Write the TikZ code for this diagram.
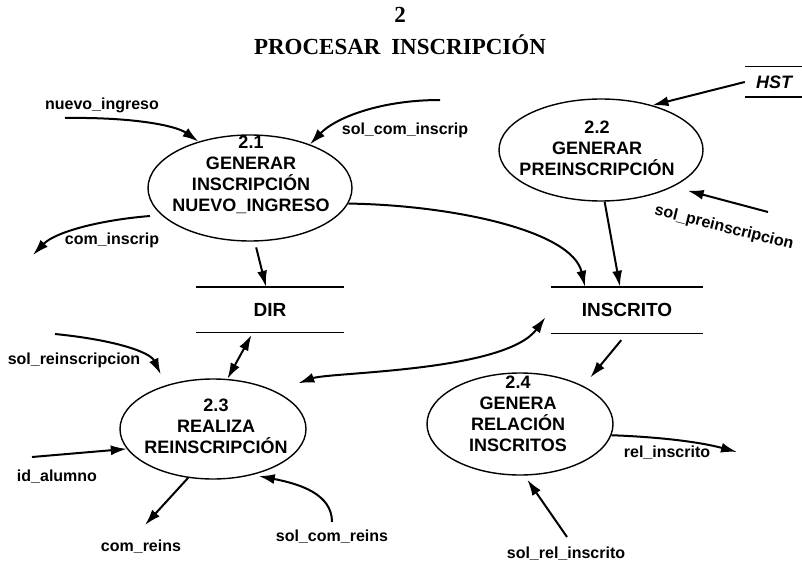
\documentclass[tikz,border=0pt]{standalone}
\usepackage{fontspec}
\setmainfont{Liberation Sans}
\newfontfamily\titlefont{Liberation Serif}
\usetikzlibrary{arrows.meta,shapes.geometric,calc}

\begin{document}
\begin{tikzpicture}[x=1pt,y=-1pt,
  proc/.style={draw, ellipse, line width=1.4pt, inner sep=0pt},
  ptext/.style={font=\fontsize{18}{21}\selectfont\bfseries, align=center, inner sep=0pt},
  store/.style={inner sep=0pt, font=\fontsize{19}{22}\selectfont\bfseries},
  storeline/.style={line width=1.4pt},
  flow/.style={line width=2pt, -{Latex[length=16pt,width=10pt]}},
  both/.style={line width=2pt, {Latex[length=16pt,width=10pt]}-{Latex[length=16pt,width=10pt]}},
  lbl/.style={font=\fontsize{16}{18}\selectfont\bfseries, inner sep=0pt}]

\path[use as bounding box] (0,0) rectangle (802,561);

% title
\node[font=\titlefont\fontsize{23}{27}\selectfont\bfseries] (num) at (400,15) {2};
\node[font=\titlefont\fontsize{23}{27}\selectfont\bfseries] (title) at (400,45) {PROCESAR\hspace{5pt} INSCRIPCIÓN};

% processes
\node[proc, minimum width=204pt, minimum height=106pt] (p21) at (250,188) {};
\node[ptext] (p21t) at (251,175) {2.1\\GENERAR\\INSCRIPCIÓN\\NUEVO\_INGRESO};

\node[proc, minimum width=204pt, minimum height=102pt] (p22) at (601,150) {};
\node[ptext] (p22t) at (597,148) {2.2\\GENERAR\\PREINSCRIPCIÓN};

\node[proc, minimum width=186pt, minimum height=100pt] (p23) at (213,429) {};
\node[ptext] (p23t) at (216,426) {2.3\\REALIZA\\REINSCRIPCIÓN};

\node[proc, minimum width=186pt, minimum height=102pt] (p24) at (520,424) {};
\node[ptext] (p24t) at (518,414) {2.4\\GENERA\\RELACIÓN\\INSCRITOS};

% data stores
\node[store, minimum width=147pt, minimum height=45pt] (dir) at (270,309.5) {DIR};
\draw[storeline] (dir.north west) -- (dir.north east) (dir.south west) -- (dir.south east);

\node[store, minimum width=152pt, minimum height=46pt] (ins) at (627,310) {INSCRITO};
\draw[storeline] (ins.north west) -- (ins.north east) (ins.south west) -- (ins.south east);

\node[store, minimum width=58pt, minimum height=30pt, font=\fontsize{18}{20}\selectfont\bfseries\itshape] (hst) at (774,82) {HST};
\draw[storeline] (hst.north west) -- (hst.north east) (hst.south west) -- (hst.south east);

% free ends of the flows
\coordinate (niS) at (65,118);
\coordinate (sciS) at (440,100);
\coordinate (ciS) at (150,216);
\coordinate (ciE) at (33,255);
\coordinate (spS) at (768,212);
\coordinate (srS) at (55,334);
\coordinate (iaS) at (32,457);
\coordinate (crE) at (145,525);
\coordinate (scrS) at (332,522);
\coordinate (riE) at (737,452);
\coordinate (sriS) at (567,537);

% flows around 2.1
\draw[flow] (niS) .. controls (130,117) and (175,125) .. (p21.138);
\draw[flow] (sciS) .. controls (380,100) and (335,118) .. (p21.36);
\draw[flow] (ciS) .. controls (100,220) and (55,232) .. (ciE);
\draw[flow, shorten <=6pt] (p21.-85) -- ($(dir.north)+(-4,0)$);
\draw[flow] (p21.-9) .. controls (450,205) and (572,230) .. ($(ins.north)+(-42,0)$);

% flows around 2.2
\draw[flow] (hst.west) -- (p22.41);
\draw[flow, shorten >=15pt] (spS) -- (p22.-27);
\draw[flow] (p22.-86) -- ($(ins.north)+(-7,0)$);

% flows around 2.3
\draw[flow, shorten >=12pt] (srS) .. controls (115,340) and (150,352) .. (p23.137);
\draw[both, shorten <=3pt] ($(dir.south)+(-17,0)$) -- (p23.74);
\draw[both, shorten <=24pt, shorten >=9pt] (p23.31) .. controls (330,372) and (505,372) .. (ins.west);
\draw[flow] (iaS) -- (p23.193);
\draw[flow] (p23.-117) -- (crE);
\draw[flow, shorten >=6pt] (scrS) .. controls (332,494) and (300,484) .. (p23.-49);

% flows around 2.4
\draw[flow, shorten <=9pt, shorten >=11pt] (ins.south) -- (p24.31);
\draw[flow] (p24.-7) .. controls (660,437) and (700,442) .. (riE);
\draw[flow, shorten >=5pt] (sriS) -- (p24.-85);

% flow labels
\node[lbl] (lni) at (102,105) {nuevo\_ingreso};
\node[lbl] (lsci) at (405,130) {sol\_com\_inscrip};
\node[lbl] (lci) at (112,240) {com\_inscrip};
\node[lbl, rotate=-14] (lsp) at (724,228) {sol\_preinscripcion};
\node[lbl] (lsr) at (74,360) {sol\_reinscripcion};
\node[lbl] (lia) at (57,477) {id\_alumno};
\node[lbl] (lcr) at (141,547) {com\_reins};
\node[lbl] (lscr) at (332,537) {sol\_com\_reins};
\node[lbl] (lri) at (667,453) {rel\_inscrito};
\node[lbl] (lsri) at (566,554) {sol\_rel\_inscrito};
\end{tikzpicture}
\end{document}
